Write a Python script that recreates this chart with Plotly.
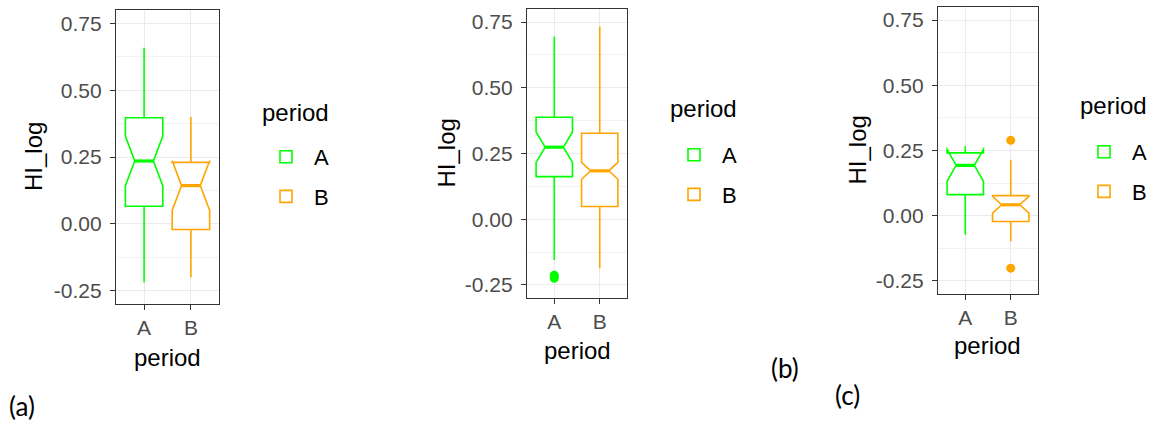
import plotly.graph_objects as go

periods = ['A', 'B']
colors = ['#00FF00', '#FFA500']

# panel (a)
a_lower = [-0.22, -0.20]
a_q1 = [0.066, -0.021]
a_median = [0.235, 0.143]
a_q3 = [0.397, 0.23]
a_upper = [0.659, 0.40]
a_notch = [0.093, 0.093]
a_out_x = []
a_out_y = []

# panel (b)
b_lower = [-0.155, -0.187]
b_q1 = [0.162, 0.048]
b_median = [0.274, 0.184]
b_q3 = [0.388, 0.327]
b_upper = [0.695, 0.733]
b_notch = [0.058, 0.032]
b_out_x = ['A', 'A']
b_out_y = [-0.213, -0.225]

# panel (c)
c_lower = [-0.073, -0.099]
c_q1 = [0.081, -0.022]
c_median = [0.193, 0.042]
c_q3 = [0.241, 0.077]
c_upper = [0.266, 0.215]
c_notch = [0.061, 0.032]
c_out_x = ['B', 'B']
c_out_y = [0.289, -0.201]

y_ticks = [-0.25, 0.0, 0.25, 0.5, 0.75]
y_labels = ['-0.25', '0.00', '0.25', '0.50', '0.75']

W, H = 1159, 425
FONT = 'Liberation Sans'
BOX_W = 0.8
NOTCH_W = 0.25      # plotly notch depth setting
MEDIAN_FRAC = 0.5   # width of the median bar relative to the box

panels = [
    dict(tag='(a)', stats=(a_lower, a_q1, a_median, a_q3, a_upper, a_notch), out=(a_out_x, a_out_y),
         box=(116, 219, 10, 304), ytitle_x=33, xtitle_y=357, legend=(258, 136), ltitle=(260, 112),
         label=(22, 406)),
    dict(tag='(b)', stats=(b_lower, b_q1, b_median, b_q3, b_upper, b_notch), out=(b_out_x, b_out_y),
         box=(527, 627, 9, 298), ytitle_x=446, xtitle_y=350, legend=(666, 134), ltitle=(668, 108),
         label=(785, 368)),
    dict(tag='(c)', stats=(c_lower, c_q1, c_median, c_q3, c_upper, c_notch), out=(c_out_x, c_out_y),
         box=(938, 1038, 7, 294), ytitle_x=857, xtitle_y=345, legend=(1076, 131), ltitle=(1078, 105),
         label=(847, 395)),
]

fig = go.Figure()
annotations = []
shapes = []


def ann(text, px, py, size, family=FONT, xanchor='center', angle=0):
    return dict(text=text, x=px / W, y=1 - py / H, xref='paper', yref='paper',
                xanchor=xanchor, yanchor='middle', showarrow=False, textangle=angle,
                font=dict(family=family, size=size, color='black'))


for k, p in enumerate(panels):
    n = '' if k == 0 else str(k + 1)
    xa, ya = 'x' + n, 'y' + n
    leg = 'legend' + n
    lower, q1, med, q3, upper, notch = p['stats']
    for i, per in enumerate(periods):
        fig.add_trace(go.Box(
            x=[per], q1=[q1[i]], median=[med[i]], q3=[q3[i]],
            lowerfence=[lower[i]], upperfence=[upper[i]], notchspan=[notch[i]],
            notched=True, notchwidth=NOTCH_W, width=BOX_W, whiskerwidth=0,
            boxpoints=False, name=per, legendgroup=per + n, legend=leg,
            line=dict(color=colors[i], width=1.6), fillcolor='white',
            xaxis=xa, yaxis=ya, hoverinfo='skip'
        ))
        # thicker median bar, as ggplot draws it
        hw = BOX_W / 2 * MEDIAN_FRAC
        shapes.append(dict(type='line', xref=xa, yref=ya, x0=i - hw, x1=i + hw,
                           y0=med[i], y1=med[i], line=dict(color=colors[i], width=3.2)))
    ox, oy = p['out']
    if ox:
        fig.add_trace(go.Scatter(
            x=ox, y=oy, mode='markers', showlegend=False,
            marker=dict(color=[colors[periods.index(v)] for v in ox], size=9),
            xaxis=xa, yaxis=ya, hoverinfo='skip'
        ))

    x0, x1, y0, y1 = p['box']
    axis_common = dict(
        showline=True, mirror=True, linecolor='#333333', linewidth=1.3,
        ticks='outside', ticklen=5, tickwidth=1.3, tickcolor='#333333',
        gridcolor='#EBEBEB', gridwidth=1.2, zeroline=False,
        tickfont=dict(family=FONT, size=21, color='#4D4D4D'),
    )
    fig.update_layout(**{
        ('xaxis' + n): dict(axis_common, domain=[x0 / W, x1 / W], anchor=ya,
                            type='category', categoryorder='array', categoryarray=periods,
                            range=[-0.6, 1.6]),
        ('yaxis' + n): dict(axis_common, domain=[1 - y1 / H, 1 - y0 / H], anchor=xa,
                            range=[-0.30, 0.80], tickvals=y_ticks, ticktext=y_labels,
                            ticklabelstandoff=4,
                            minor=dict(showgrid=True, gridcolor='#F2F2F2', gridwidth=1,
                                       tickvals=[-0.125, 0.125, 0.375, 0.625])),
        leg: dict(x=p['legend'][0] / W, y=1 - p['legend'][1] / H, xanchor='left', yanchor='top',
                  font=dict(family=FONT, size=22, color='black'), itemwidth=46,
                  tracegroupgap=8, bgcolor='rgba(0,0,0,0)'),
    })

    annotations.append(ann('HI_log', p['ytitle_x'], (y0 + y1) / 2, 24, angle=-90))
    annotations.append(ann('period', (x0 + x1) / 2, p['xtitle_y'], 24))
    annotations.append(ann('period', p['ltitle'][0], p['ltitle'][1], 24, xanchor='left'))
    annotations.append(ann(p['tag'], p['label'][0], p['label'][1], 26, family='Lato'))

fig.update_layout(
    width=W, height=H, margin=dict(l=0, r=0, t=0, b=0),
    paper_bgcolor='white', plot_bgcolor='white',
    annotations=annotations, shapes=shapes,
)

fig.write_html('out.html', config={'displayModeBar': False},
               post_script="document.body.style.margin='0';")
